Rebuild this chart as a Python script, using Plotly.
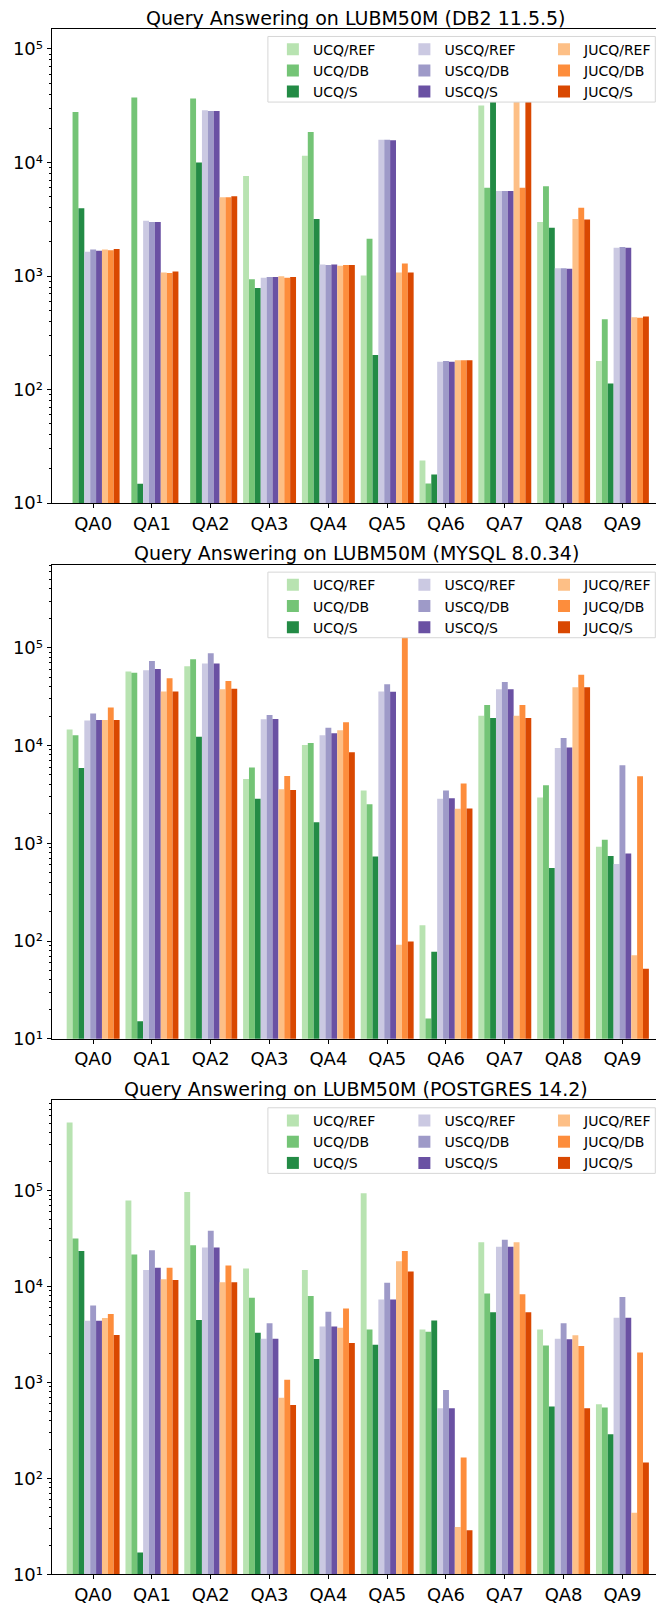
import plotly.graph_objects as go

W, H = 657, 1614

CATEGORIES = ["QA0", "QA1", "QA2", "QA3", "QA4", "QA5", "QA6", "QA7", "QA8", "QA9"]
TITLES = [
    "Query Answering on LUBM50M (DB2 11.5.5)",
    "Query Answering on LUBM50M (MYSQL 8.0.34)",
    "Query Answering on LUBM50M (POSTGRES 14.2)",
]
SERIES_NAMES = ["UCQ/REF", "UCQ/DB", "UCQ/S",
                "USCQ/REF", "USCQ/DB", "USCQ/S",
                "JUCQ/REF", "JUCQ/DB", "JUCQ/S"]
Y_TICK_LABELS = ["10¹", "10²", "10³", "10⁴", "10⁵"]

# ---- DB2 11.5.5 ----
DB2_UCQ_REF = [None, None, None, 7600, 11500, 1010, 23.8, 31800, 2990, 179]
DB2_UCQ_DB = [27800, 37400, 36600, 940, 18600, 2135, 14.9, 6010, 6180, 417]
DB2_UCQ_S = [3960, 14.8, 10000, 784, 3190, 202, 17.9, 96000, 2665, 113]
DB2_USCQ_REF = [1640, 3070, 28800, 966, 1265, 15900, 176, 5620, 1173, 1780]
DB2_USCQ_DB = [1710, 2990, 28400, 980, 1250, 15900, 179, 5620, 1173, 1803]
DB2_USCQ_S = [1675, 2990, 28400, 980, 1265, 15700, 176, 5620, 1158, 1780]
DB2_JUCQ_REF = [1710, 1075, 4950, 994, 1230, 1075, 181, 70000, 3190, 434]
DB2_JUCQ_DB = [1690, 1065, 4950, 966, 1250, 1290, 181, 6010, 3990, 430]
DB2_JUCQ_S = [1735, 1097, 5050, 980, 1250, 1075, 181, 90000, 3150, 440]

# ---- MYSQL 8.0.34 ----
MYSQL_UCQ_REF = [14600, 57000, 64700, 4540, 10100, 3470, 145, 20100, 2940, 920]
MYSQL_UCQ_DB = [12700, 55600, 76400, 5940, 10600, 2510, 16.1, 26000, 3910, 1087]
MYSQL_UCQ_S = [5890, 15.1, 12300, 2850, 1640, 731, 77.5, 19100, 559, 743]
MYSQL_USCQ_REF = [17960, 58800, 68900, 18500, 12700, 35700, 2850, 37500, 9400, 615]
MYSQL_USCQ_DB = [21200, 73300, 87900, 20500, 15200, 42200, 3470, 44600, 11900, 6280]
MYSQL_USCQ_S = [18200, 60700, 68900, 18700, 13300, 35500, 2890, 37500, 9550, 785]
MYSQL_JUCQ_REF = [18200, 35700, 37500, 3560, 14300, 91.5, 2250, 20100, 39300, 71.6]
MYSQL_JUCQ_DB = [24400, 48600, 45600, 4870, 17300, 420000, 4090, 26000, 53000, 4840]
MYSQL_JUCQ_S = [18200, 35700, 38100, 3500, 8550, 99, 2265, 19100, 39300, 52.2]

# ---- POSTGRES 14.2 ----
PG_UCQ_REF = [512000, 79000, 96700, 15400, 14900, 94200, 3570, 29000, 3570, 593]
PG_UCQ_DB = [31800, 21600, 26900, 7670, 8000, 3570, 3390, 8490, 2440, 550]
PG_UCQ_S = [23500, 16.9, 4480, 3310, 1758, 2480, 4430, 5390, 564, 290]
PG_USCQ_REF = [4400, 14900, 25600, 2860, 3850, 7360, 541, 26000, 2860, 4740]
PG_USCQ_DB = [6370, 23900, 38300, 4150, 5480, 11000, 837, 30800, 4150, 7800]
PG_USCQ_S = [4400, 15700, 25600, 2860, 3850, 7360, 541, 26000, 2820, 4740]
PG_JUCQ_REF = [4710, 11900, 11100, 696, 3720, 18400, 31.2, 29000, 3120, 44]
PG_JUCQ_DB = [5170, 15700, 16600, 1069, 5900, 23500, 166, 8340, 2400, 2060]
PG_JUCQ_S = [3140, 11700, 11100, 583, 2590, 14400, 28.9, 5390, 541, 146.6]

PANELS = [
    [DB2_UCQ_REF, DB2_UCQ_DB, DB2_UCQ_S, DB2_USCQ_REF, DB2_USCQ_DB, DB2_USCQ_S,
     DB2_JUCQ_REF, DB2_JUCQ_DB, DB2_JUCQ_S],
    [MYSQL_UCQ_REF, MYSQL_UCQ_DB, MYSQL_UCQ_S, MYSQL_USCQ_REF, MYSQL_USCQ_DB, MYSQL_USCQ_S,
     MYSQL_JUCQ_REF, MYSQL_JUCQ_DB, MYSQL_JUCQ_S],
    [PG_UCQ_REF, PG_UCQ_DB, PG_UCQ_S, PG_USCQ_REF, PG_USCQ_DB, PG_USCQ_S,
     PG_JUCQ_REF, PG_JUCQ_DB, PG_JUCQ_S],
]

COLORS = ["#b8e3b1", "#74c476", "#238b45",
          "#cbc9e2", "#9e9ac8", "#6a51a3",
          "#fdbf86", "#fd8d3c", "#d94801"]

Y_TOP_LOG = [5.175, 5.848, 5.94]

FONT = "DejaVu Sans"

# layout geometry (pixels)
AX_LEFT = 51.7
AX_TOPS = [29.3, 568.3, 1107.3]
AX_H = 477.0
X_RANGE = [-0.706, 9.571]


def py(pix):
    return 1 - pix / H


def px(pix):
    return pix / W


fig = go.Figure()

for p, series in enumerate(PANELS):
    ax = "" if p == 0 else str(p + 1)
    for i, (vals, name, col) in enumerate(zip(series, SERIES_NAMES, COLORS)):
        k = 3 * p + i // 3 + 1
        fig.add_trace(go.Bar(
            x=CATEGORIES, y=vals, name=name,
            marker=dict(color=col, line=dict(width=0)),
            xaxis="x" + ax, yaxis="y" + ax,
            legend="legend" if k == 1 else f"legend{k}",
            showlegend=True,
        ))

layout = dict(
    width=W, height=H,
    margin=dict(l=0, r=0, t=0, b=0),
    paper_bgcolor="white", plot_bgcolor="white",
    barmode="group", bargap=0.1, bargroupgap=0,
    font=dict(family=FONT, color="black"),
    showlegend=True,
)

annotations = []
shapes = []
for p in range(3):
    ax = "" if p == 0 else str(p + 1)
    top = AX_TOPS[p]
    bottom = top + AX_H
    major = [10 ** e for e in range(1, 6) if e <= Y_TOP_LOG[p]]
    minor = [m * 10 ** e for e in range(1, 6) for m in range(2, 10)
             if m * 10 ** e < 10 ** Y_TOP_LOG[p]]
    layout["xaxis" + ax] = dict(
        domain=[px(AX_LEFT), 1], anchor="y" + ax,
        range=X_RANGE, type="category",
        showline=True, linecolor="black", linewidth=1, mirror=True,
        ticks="outside", ticklen=4, tickwidth=1, tickcolor="black",
        tickfont=dict(size=18, family=FONT, color="black"),
        showgrid=False, zeroline=False,
    )
    layout["yaxis" + ax] = dict(
        domain=[py(bottom), py(top)], anchor="x" + ax,
        type="log", range=[1, Y_TOP_LOG[p]],
        showline=True, linecolor="black", linewidth=1, mirror=False,
        ticks="outside", ticklen=4, tickwidth=1, tickcolor="black",
        tickmode="array", tickvals=major,
        ticktext=Y_TICK_LABELS[:len(major)],
        tickfont=dict(size=18, family=FONT, color="black"),
        minor=dict(tickmode="array", tickvals=minor, ticks="outside",
                   ticklen=2, tickwidth=0.8, tickcolor="black", showgrid=False),
        showgrid=False, zeroline=False,
    )
    annotations.append(dict(
        text=TITLES[p], xref="paper", yref="paper",
        x=px(357), y=py(top - 11.5), xanchor="center", yanchor="middle",
        showarrow=False, font=dict(size=19, family=FONT, color="black"),
    ))
    shapes.append(dict(
        type="rect", xref="paper", yref="paper", layer="above",
        x0=px(268.3), x1=px(656.3), y0=py(top + 73.4), y1=py(top + 7.4),
        fillcolor="white", line=dict(color="#d6d6d6", width=1),
    ))
    for g, text_x in enumerate([313.3, 445.0, 585.0]):
        k = 3 * p + g + 1
        key = "legend" if k == 1 else f"legend{k}"
        layout[key] = dict(
            x=px(text_x - 40), y=py(top + 4.5),
            xanchor="left", yanchor="top",
            orientation="v", bgcolor="rgba(0,0,0,0)", borderwidth=0,
            font=dict(size=14, family=FONT, color="black"),
            tracegroupgap=0,
        )

layout["annotations"] = annotations
layout["shapes"] = shapes
fig.update_layout(**layout)

fig.write_html(
    "out.html",
    config={"displayModeBar": False},
    post_script="document.body.style.margin='0';"
                "document.body.style.overflow='hidden';",
)
